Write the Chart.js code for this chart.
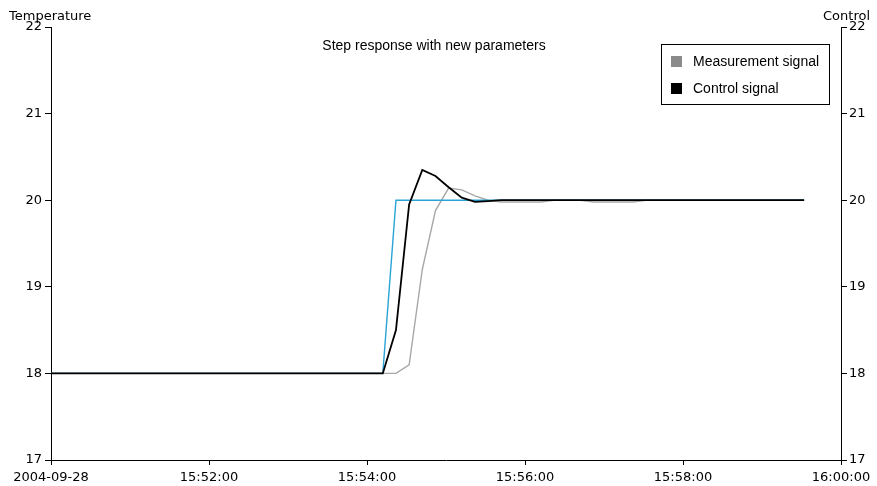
<!DOCTYPE html>
<html>
<head>
<meta charset="utf-8">
<script src="https://cdn.jsdelivr.net/npm/chart.js@4.4.1/dist/chart.umd.min.js"></script>
<style>
html,body{margin:0;padding:0;background:#fff;}
#wrap{width:877px;height:486px;}
canvas{display:block;}
</style>
</head>
<body>
<div id="wrap"><canvas id="c" width="877" height="486"></canvas></div>
<script>
// ---- data (times are hh:mm:ss on 2004-09-28) ----
const chartTitle = "Step response with new parameters";
const leftAxisTitle = "Temperature";
const rightAxisTitle = "Control";
const dateLabel = "2004-09-28";
const startTime = "15:50:00";
const xTickTimes = ["15:50:00","15:52:00","15:54:00","15:56:00","15:58:00","16:00:00"];
const yTicks = [17,18,19,20,21,22];

const setpointTimes  = ["15:50:00","15:54:12","15:54:22","15:59:32"];
const setpointValues = [18, 18, 20, 20];

const controlTimes  = ["15:50:00","15:54:12","15:54:22","15:54:32","15:54:42","15:54:52","15:55:02","15:55:12","15:55:22","15:55:32","15:55:42","15:59:32"];
const controlValues = [18, 18, 18.5, 19.95, 20.35, 20.28, 20.15, 20.03, 19.98, 19.99, 20, 20];

const measTimes  = ["15:50:00","15:54:22","15:54:32","15:54:42","15:54:52","15:55:02","15:55:12","15:55:22","15:55:32","15:55:42","15:56:12","15:56:22","15:56:42","15:56:52","15:57:22","15:57:32","15:59:32"];
const measValues = [18, 18, 18.1, 19.2, 19.88, 20.14, 20.12, 20.05, 20.0, 19.98, 19.98, 20, 20, 19.98, 19.98, 20, 20];

const legendLabels = ["Measurement signal","Control signal"];

// ---- helpers ----
function toSec(t){ const p=t.split(':').map(Number); return p[0]*3600+p[1]*60+p[2]; }
const t0 = toSec(startTime);
function pts(times, vals){ return times.map((t,i)=>({x: toSec(t)-t0, y: vals[i]})); }
function fmt(s){
  const a = t0 + s;
  const h = Math.floor(a/3600), m = Math.floor((a%3600)/60), sec = a%60;
  const p = n => String(n).padStart(2,'0');
  return p(h)+':'+p(m)+':'+p(sec);
}
const xTickVals = xTickTimes.map(t=>toSec(t)-t0);

const tickFont = {family: "'DejaVu Sans', Verdana, sans-serif", size: 13};

const overlay = {
  id: 'overlay',
  afterDraw(chart){
    const ctx = chart.ctx;
    ctx.save();
    ctx.fillStyle = '#000';
    ctx.font = "13px 'DejaVu Sans', Verdana, sans-serif";
    ctx.textBaseline = 'alphabetic';
    ctx.textAlign = 'left';
    ctx.fillText(leftAxisTitle, 9, 20);
    ctx.textAlign = 'right';
    ctx.fillText(rightAxisTitle, 870, 20);
    ctx.font = "14px 'Liberation Sans', Arial, sans-serif";
    ctx.textAlign = 'center';
    ctx.fillText(chartTitle, 434, 50);
    ctx.fillStyle = '#fff';
    ctx.fillRect(661.5, 44.5, 168, 60);
    ctx.strokeStyle = '#000';
    ctx.lineWidth = 1;
    ctx.strokeRect(661.5, 44.5, 168, 60);
    const cols = ['#8a8a8a', '#000'];
    ctx.textAlign = 'left';
    legendLabels.forEach((lab,i)=>{
      const y = 56 + i*27;
      ctx.fillStyle = cols[i];
      ctx.fillRect(671, y, 11, 11);
      ctx.fillStyle = '#000';
      ctx.fillText(lab, 693, y + 10);
    });
    ctx.restore();
  }
};

new Chart(document.getElementById('c'), {
  type: 'line',
  data: {
    datasets: [
      {label: 'Measurement signal', data: pts(measTimes, measValues), borderColor: '#a8a8a8', borderWidth: 1.4, pointRadius: 0, tension: 0, order: 3},
      {label: 'Setpoint', data: pts(setpointTimes, setpointValues), borderColor: '#2aa3d6', borderWidth: 1.4, pointRadius: 0, tension: 0, order: 2},
      {label: 'Control signal', data: pts(controlTimes, controlValues), borderColor: '#000', borderWidth: 1.8, pointRadius: 0, tension: 0, order: 1}
    ]
  },
  options: {
    responsive: false,
    animation: false,
    devicePixelRatio: 1,
    layout: {padding: {top: 27, left: 0, right: 0, bottom: 0}},
    plugins: {legend: {display: false}, tooltip: {enabled: false}, title: {display: false}},
    scales: {
      x: {
        type: 'linear',
        position: 'bottom',
        min: xTickVals[0],
        max: xTickVals[xTickVals.length-1],
        afterBuildTicks: s => { s.ticks = xTickVals.map(v=>({value: v})); },
        afterFit: s => { s.height = 26; },
        ticks: {font: tickFont, color: '#000', padding: 5, maxRotation: 0, autoSkip: false,
                callback: v => v === xTickVals[0] ? dateLabel : fmt(v)},
        grid: {display: true, drawOnChartArea: false, drawTicks: true, tickLength: 5, color: '#000'},
        border: {display: true, color: '#000', width: 1}
      },
      y: {
        type: 'linear',
        position: 'left',
        min: yTicks[0], max: yTicks[yTicks.length-1],
        afterBuildTicks: s => { s.ticks = yTicks.map(v=>({value: v})); },
        afterFit: s => { s.width = 51; },
        ticks: {font: tickFont, color: '#000', padding: 3},
        grid: {display: true, drawOnChartArea: false, drawTicks: true, tickLength: 6, color: '#000'},
        border: {display: true, color: '#000', width: 1}
      },
      y2: {
        type: 'linear',
        position: 'right',
        min: yTicks[0], max: yTicks[yTicks.length-1],
        afterBuildTicks: s => { s.ticks = yTicks.map(v=>({value: v})); },
        afterFit: s => { s.width = 36; },
        ticks: {font: tickFont, color: '#000', padding: 2},
        grid: {display: true, drawOnChartArea: false, drawTicks: true, tickLength: 6, color: '#000'},
        border: {display: true, color: '#000', width: 1}
      }
    }
  },
  plugins: [overlay]
});
</script>
</body>
</html>
